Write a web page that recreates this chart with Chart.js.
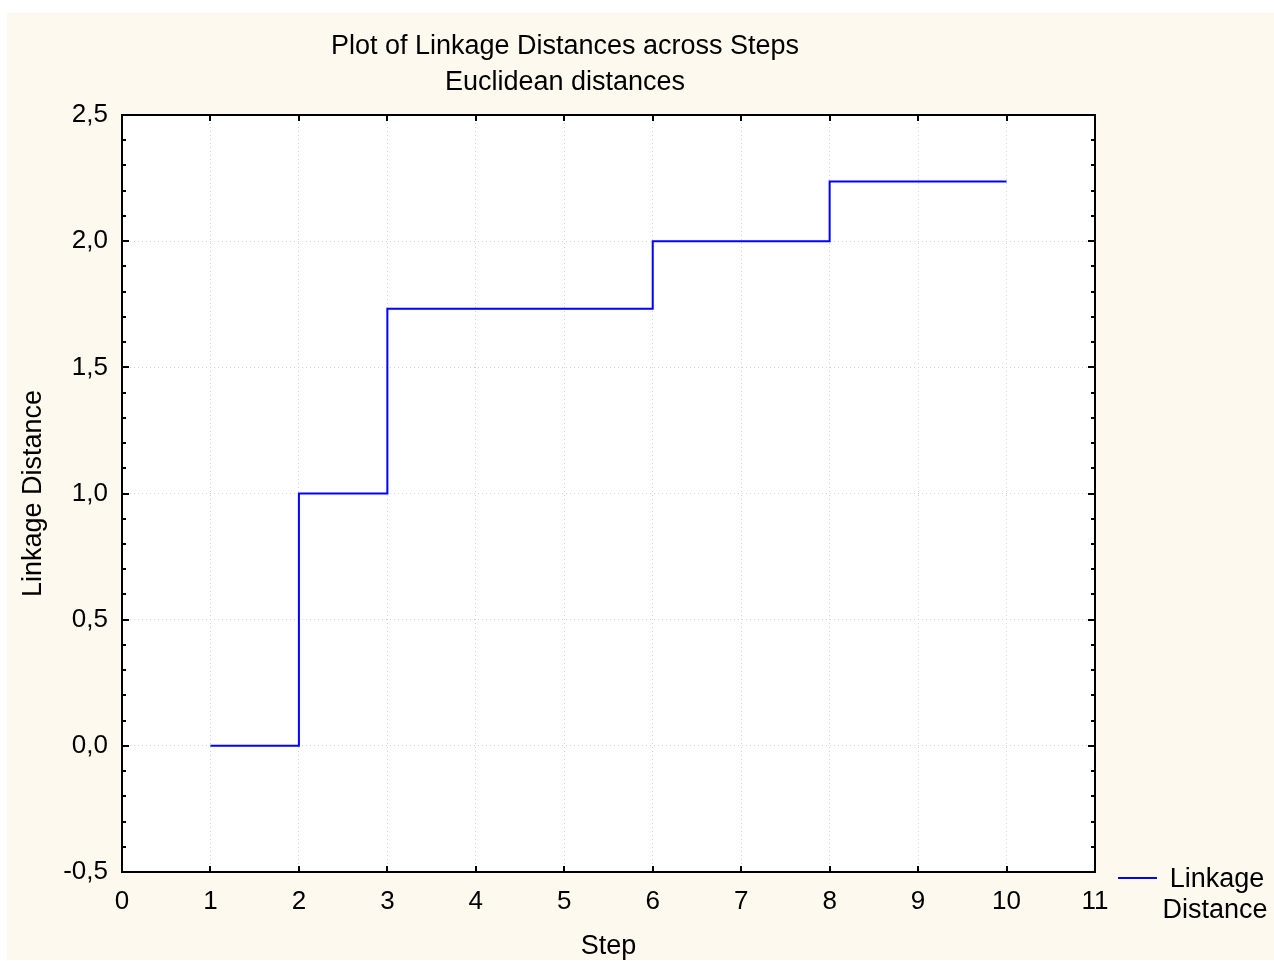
<!DOCTYPE html>
<html lang="en">
<head>
  <meta charset="UTF-8" />
  <title>Plot of Linkage Distances across Steps</title>
  <style>
    html, body { margin: 0; padding: 0; background: #fff; }
    #wrap { width: 1274px; height: 961px; }
  </style>
</head>
<body>
  <div id="wrap"><canvas id="linkageChart" width="1274" height="961"></canvas></div>

  <script src="https://cdn.jsdelivr.net/npm/chart.js"></script>
  <script>
    // Datos del gráfico
    const pasos = [1, 2, 3, 4, 5, 6, 7, 8, 9, 10];
    const distancias = [0, 1, 1.732, 1.732, 1.732, 2, 2, 2.236, 2.236, 2.236];
    const tituloLineas = ['Plot of Linkage Distances across Steps', 'Euclidean distances'];
    const leyendaLineas = ['Linkage', 'Distance'];

    const fuente = "'Liberation Sans', Arial, sans-serif";

    // fondo crema, marco, marcas interiores, títulos y leyenda
    const decorado = {
      id: 'decorado',
      beforeDraw(chart) {
        const c = chart.ctx;
        c.save();
        c.fillStyle = '#FEF9EF';
        c.fillRect(7, 13, 1267, 947);
        const a = chart.chartArea;
        c.fillStyle = '#ffffff';
        c.fillRect(a.left, a.top, a.right - a.left, a.bottom - a.top);
        c.restore();
      },
      afterDraw(chart) {
        const c = chart.ctx;
        const a = chart.chartArea;
        const xs = chart.scales.x;
        const ys = chart.scales.y;
        c.save();
        c.strokeStyle = '#000';
        c.lineWidth = 2;
        c.strokeRect(a.left, a.top, a.right - a.left, a.bottom - a.top);

        c.beginPath();
        xs.ticks.forEach(t => {
          const px = Math.round(xs.getPixelForValue(t.value));
          c.moveTo(px, a.bottom); c.lineTo(px, a.bottom - 6);
          c.moveTo(px, a.top); c.lineTo(px, a.top + 6);
        });
        // marcas menores cada 0,1
        for (let i = -5; i <= 25; i++) {
          const py = Math.round(ys.getPixelForValue(i / 10));
          const len = (i % 5 === 0) ? 7 : 4;
          c.moveTo(a.left, py); c.lineTo(a.left + len, py);
          c.moveTo(a.right, py); c.lineTo(a.right - len, py);
        }
        c.stroke();

        c.fillStyle = '#000';
        c.font = '27px ' + fuente;
        c.textAlign = 'center';
        c.textBaseline = 'middle';
        c.fillText(tituloLineas[0], 565, 47);
        c.fillText(tituloLineas[1], 565, 83);

        // leyenda
        c.strokeStyle = '#0000ff';
        c.lineWidth = 2;
        c.beginPath();
        c.moveTo(1118, 878); c.lineTo(1157, 878);
        c.stroke();
        c.fillText(leyendaLineas[0], 1217, 880);
        c.fillText(leyendaLineas[1], 1215, 911);
        c.restore();
      }
    };

    const ctx = document.getElementById('linkageChart').getContext('2d');
    new Chart(ctx, {
      type: 'line',
      data: {
        datasets: [{
          label: 'Linkage Distance',
          data: pasos.map((p, i) => ({ x: p, y: distancias[i] })),
          borderColor: '#0000ff',
          borderWidth: 2,
          stepped: 'before',
          pointRadius: 0,
          fill: false
        }]
      },
      options: {
        responsive: false,
        animation: false,
        devicePixelRatio: 1,
        layout: { padding: { left: 0, top: 115, right: 179, bottom: 0 } },
        plugins: {
          legend: { display: false },
          title: { display: false },
          tooltip: { enabled: false }
        },
        scales: {
          x: {
            type: 'linear',
            min: 0,
            max: 11,
            ticks: {
              stepSize: 1,
              color: '#000',
              padding: 14,
              font: { family: fuente, size: 26 }
            },
            grid: {
              color: '#d2d2d2',
              lineWidth: 1,
              drawTicks: false
            },
            border: { display: false, dash: [1, 3] },
            title: {
              display: true,
              text: 'Step',
              color: '#000',
              padding: { top: 0, bottom: -2 },
              font: { family: fuente, size: 27 }
            },
            afterFit: (s) => { s.height = 89; }
          },
          y: {
            type: 'linear',
            min: -0.5,
            max: 2.5,
            ticks: {
              stepSize: 0.5,
              color: '#000',
              padding: 14,
              font: { family: fuente, size: 26 },
              callback: (v) => v.toFixed(1).replace('.', ',')
            },
            grid: {
              color: '#d2d2d2',
              lineWidth: 1,
              drawTicks: false
            },
            border: { display: false, dash: [1, 3] },
            title: {
              display: true,
              text: 'Linkage Distance',
              color: '#000',
              padding: { top: 17, bottom: 0 },
              font: { family: fuente, size: 27 }
            },
            afterFit: (s) => { s.width = 122; }
          }
        }
      },
      plugins: [decorado]
    });
  </script>
</body>
</html>
